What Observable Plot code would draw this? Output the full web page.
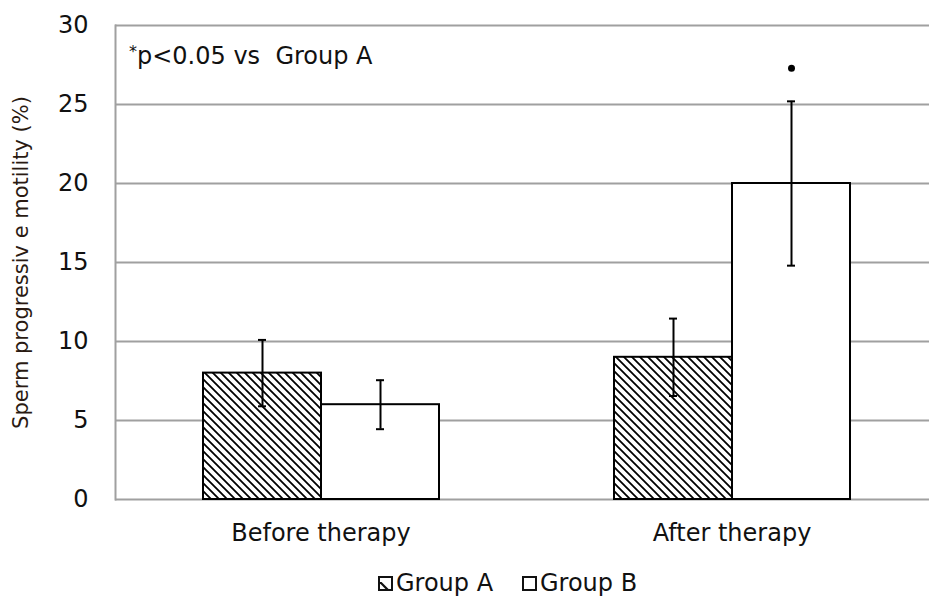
<!DOCTYPE html>
<html><head><meta charset="utf-8">
<script src="https://cdn.jsdelivr.net/npm/d3@7"></script>
<script src="https://cdn.jsdelivr.net/npm/@observablehq/plot@0.6"></script>
<style>
body{margin:0;background:#fff;font-family:"DejaVu Sans",sans-serif;overflow:hidden;}
#wrap{position:relative;width:929px;height:598px;overflow:hidden;}
#wrap > svg{max-width:none !important;}
.t{position:absolute;font-size:24px;line-height:24px;color:#111;white-space:pre;}
#note sup{font-size:16px;line-height:0;vertical-align:7px;}
.sw{position:absolute;width:11px;height:11px;border:2px solid #111;background:#fff;overflow:hidden;}
</style></head><body><div id="wrap"></div>
<script>
const phases = ["Before therapy", "After therapy"];
const groups = ["Group A", "Group B"];
const groupAMean = [8.0, 9.0];
const groupBMean = [6.0, 20.0];
const groupASD = [2.1, 2.45];
const groupBSD = [1.55, 5.2];
const yTicks = [0, 5, 10, 15, 20, 25, 30];
const sigMarks = [{phase: "After therapy", group: "Group B", y: 27.3}];
const yLabel = "Sperm progressiv e motility (%)";
const noteText = "p<0.05 vs  Group A";

const rows = [];
phases.forEach((p, i) => {
  rows.push({phase: p, group: groups[0], value: groupAMean[i], sd: groupASD[i]});
  rows.push({phase: p, group: groups[1], value: groupBMean[i], sd: groupBSD[i]});
});
rows.forEach(d => { d.lo = d.value - d.sd; d.hi = d.value + d.sd; });

const svg = Plot.plot({
  width: 937, height: 566,
  marginLeft: 115, marginRight: 0, marginTop: 25, marginBottom: 67,
  style: {fontFamily: "DejaVu Sans, sans-serif", fontSize: "24px", color: "#111", background: "#fff", overflow: "visible", maxWidth: "none"},
  fx: {domain: phases, padding: 0, label: null},
  x: {domain: groups, axis: null, paddingInner: 0, paddingOuter: 0.727},
  y: {domain: [0, 30]},
  color: {domain: groups, range: ["url(#hatch)", "white"]},
  marks: [
    Plot.ruleY(yTicks, {stroke: "#a0a0a0", strokeWidth: 2, strokeOpacity: 1}),
    Plot.frame({anchor: "left", facetAnchor: "left", stroke: "#a0a0a0", strokeWidth: 2, strokeOpacity: 1}),
    Plot.axisY({ticks: yTicks, tickSize: 0, tickPadding: 27, label: null, fill: "#111"}),
    Plot.axisY({ticks: [], label: yLabel, labelAnchor: "center", labelOffset: 102, labelArrow: "none", fill: "#2a1a12", fontSize: 21}),
    Plot.axisFx({anchor: "bottom", tickSize: 0, tickPadding: 24, label: null, fill: "#111"}),
    Plot.barY(rows, {fx: "phase", x: "group", y: "value", fill: "group", stroke: "black", strokeWidth: 2}),
    Plot.ruleX(rows, {fx: "phase", x: "group", y1: "lo", y2: "hi", stroke: "black", strokeWidth: 2}),
    Plot.tickY(rows, {fx: "phase", x: "group", y: "hi", stroke: "black", strokeWidth: 2, insetLeft: 55, insetRight: 55}),
    Plot.tickY(rows, {fx: "phase", x: "group", y: "lo", stroke: "black", strokeWidth: 2, insetLeft: 55, insetRight: 55}),
    Plot.dot(sigMarks, {fx: "phase", x: "group", y: "y", r: 3.5, fill: "black", stroke: "none"})
  ]
});
svg.style.maxWidth = "none";

const ns = "http://www.w3.org/2000/svg";
const defs = document.createElementNS(ns, "defs");
defs.innerHTML = '<pattern id="hatch" patternUnits="userSpaceOnUse" width="8" height="8"><rect width="8" height="8" fill="white"/><path d="M-2,-2L10,10M-2,6L2,10M6,-2L10,2" stroke="black" stroke-width="1.8"/></pattern>';
svg.insertBefore(defs, svg.firstChild);

const wrap = document.getElementById("wrap");
wrap.appendChild(svg);

function addText(id, html, left, top) {
  const el = document.createElement("div");
  el.className = "t";
  if (id) el.id = id;
  el.innerHTML = html;
  el.style.left = left + "px";
  el.style.top = top + "px";
  wrap.appendChild(el);
  return el;
}
addText("note", "<sup>*</sup>" + noteText.replace("<", "&lt;"), 129, 44);

function addSwatch(left, top, hatched) {
  const el = document.createElement("div");
  el.className = "sw";
  el.style.left = left + "px";
  el.style.top = top + "px";
  if (hatched) el.innerHTML = '<svg width="11" height="11"><path d="M0,0L11,11" stroke="#111" stroke-width="2.2"/></svg>';
  wrap.appendChild(el);
}
addSwatch(378, 576, true);
addText(null, groups[0], 396, 571);
addSwatch(522, 576, false);
addText(null, groups[1], 540, 571);
</script>
</body></html>
